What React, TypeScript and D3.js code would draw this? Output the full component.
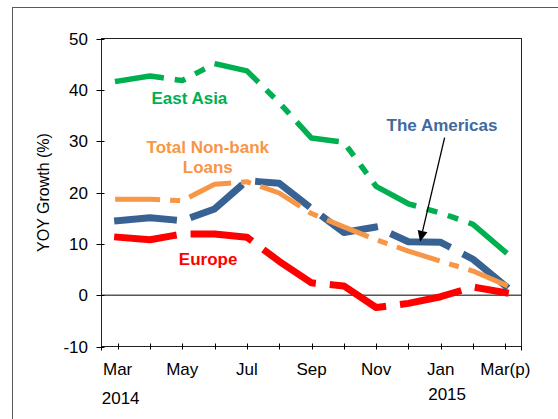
import React from "react";
import * as d3 from "d3";

const months = ["Mar", "Apr", "May", "Jun", "Jul", "Aug", "Sep", "Oct", "Nov", "Dec", "Jan", "Feb", "Mar(p)"];
const labeledMonths = ["Mar", "May", "Jul", "Sep", "Nov", "Jan", "Mar(p)"];
const yTicks = [-10, 0, 10, 20, 30, 40, 50];

const eastAsia = [41.7, 42.7, 41.8, 45.1, 43.7, 37.5, 30.6, 29.8, 21.2, 17.8, 16.0, 13.8, 8.4];
const totalNonBank = [18.7, 18.7, 18.4, 21.6, 22.1, 19.9, 15.9, 13.3, 10.8, 8.6, 6.6, 4.7, 2.0];
const americas = [14.5, 15.1, 14.5, 16.8, 22.3, 21.8, 16.9, 12.2, 13.3, 10.4, 10.3, 7.0, 1.8];
const europe = [11.3, 10.8, 11.9, 11.9, 11.3, 6.6, 2.4, 1.8, -2.4, -1.6, -0.3, 1.6, 0.5];

const W = 558;
const H = 419;
const left = 101.5;
const right = 521.5;
const top = 38.5;
const bottom = 346.5;

const FONT = "'Liberation Sans', Arial, sans-serif";

export default function App() {
  const x = d3.scalePoint<string>().domain(months).range([left, right]).padding(0.5);
  const step = x.step();
  const xi = (i: number) => (x(months[0]) as number) + i * step;
  const y = d3.scaleLinear().domain([-10, 50]).range([bottom, top]);

  const line = d3
    .line<number>()
    .x((_, i) => xi(i))
    .y((d) => y(d));

  const series = [
    { name: "americas", data: americas, color: "#386293", w: 7, dash: [8, 3] },
    { name: "total", data: totalNonBank, color: "#F79646", w: 5, dash: [8, 3, 1, 3] },
    { name: "eastAsia", data: eastAsia, color: "#00B050", w: 5.5, dash: [8, 3, 1, 3, 1, 3] },
    { name: "europe", data: europe, color: "#FF0000", w: 7, dash: [8, 3] },
  ];

  const dashArr = (s: { w: number; dash: number[] }) =>
    s.dash.map((d, k) => (k % 2 === 0 ? d * s.w : d * s.w)).join(" ");

  // arrow in data space (index, value)
  const tail = [xi(10.12), y(30.7)];
  const tip = [xi(9.36), y(10.4)];
  const dx = tip[0] - tail[0];
  const dy = tip[1] - tail[1];
  const len = Math.sqrt(dx * dx + dy * dy);
  const ux = dx / len;
  const uy = dy / len;
  const headL = 11;
  const headW = 5;
  const base = [tip[0] - ux * headL, tip[1] - uy * headL];
  const head = [
    [tip[0], tip[1]],
    [base[0] - uy * headW, base[1] + ux * headW],
    [base[0] + uy * headW, base[1] - ux * headW],
  ];

  const annotations = [
    { text: "East Asia", i: 2.22, v: 37.3, color: "#00B050" },
    { text: "Total Non-bank", i: 2.79, v: 27.6, color: "#F79646" },
    { text: "Loans", i: 2.79, v: 23.85, color: "#F79646" },
    { text: "The Americas", i: 10.04, v: 31.9, color: "#3F6A9F" },
    { text: "Europe", i: 2.8, v: 5.85, color: "#FF0000" },
  ];

  return (
    <svg width={W} height={H} style={{ position: "absolute", left: 0, top: 0, background: "#fff" }}>
      <rect x={12.5} y={7.5} width={600} height={500} fill="#fff" stroke="#5a5a5a" strokeWidth={1} />
      {/* plot frame */}
      <rect x={left} y={top} width={right - left} height={bottom - top} fill="none" stroke="#222" strokeWidth={1} />
      {/* zero line */}
      <line x1={left} x2={right} y1={y(0)} y2={y(0)} stroke="#000" strokeWidth={1} />
      {/* y ticks */}
      {yTicks.map((t) => (
        <g key={t}>
          <line x1={left - 5} x2={left + 3} y1={Math.round(y(t)) + 0.5} y2={Math.round(y(t)) + 0.5} stroke="#000" />
          <text x={88} y={y(t)} dy="0.36em" textAnchor="end" fontFamily={FONT} fontSize={17} fill="#000">
            {t}
          </text>
        </g>
      ))}
      {/* x ticks */}
      {months.map((m) => (
        <line key={m} x1={Math.round(x(m) as number) + 0.5} x2={Math.round(x(m) as number) + 0.5} y1={bottom - 3} y2={bottom + 3} stroke="#000" />
      ))}
      <line x1={right} x2={right} y1={bottom} y2={bottom + 4} stroke="#000" />
      <line x1={left} x2={left} y1={bottom} y2={bottom + 4} stroke="#000" />
      {labeledMonths.map((m) => (
        <text key={m} x={x(m)} y={bottom + 28} textAnchor="middle" fontFamily={FONT} fontSize={17} fill="#000">
          {m}
        </text>
      ))}
      <text x={xi(0) + 3} y={bottom + 57.5} textAnchor="middle" fontFamily={FONT} fontSize={17} fill="#000">
        2014
      </text>
      <text x={xi(10) + 6.4} y={bottom + 53.5} textAnchor="middle" fontFamily={FONT} fontSize={17} fill="#000">
        2015
      </text>
      <text
        transform={`translate(43, ${(top + bottom) / 2}) rotate(-90)`}
        textAnchor="middle"
        dy="0.36em"
        fontFamily={FONT}
        fontSize={16}
        fill="#000"
      >
        YOY Growth (%)
      </text>
      {/* series */}
      {series.map((s) => (
        <path
          key={s.name}
          d={line(s.data) as string}
          fill="none"
          stroke={s.color}
          strokeWidth={s.w}
          strokeDasharray={dashArr(s)}
          strokeLinecap="square"
          strokeLinejoin="round"
        />
      ))}
      {/* arrow */}
      <line x1={tail[0]} y1={tail[1]} x2={base[0]} y2={base[1]} stroke="#000" strokeWidth={1.3} />
      <polygon points={head.map((p) => p.join(",")).join(" ")} fill="#000" />
      {annotations.map((a) => (
        <text key={a.text} x={xi(a.i)} y={y(a.v)} textAnchor="middle" fontFamily={FONT} fontSize={17} fontWeight="bold" fill={a.color}>
          {a.text}
        </text>
      ))}
    </svg>
  );
}
